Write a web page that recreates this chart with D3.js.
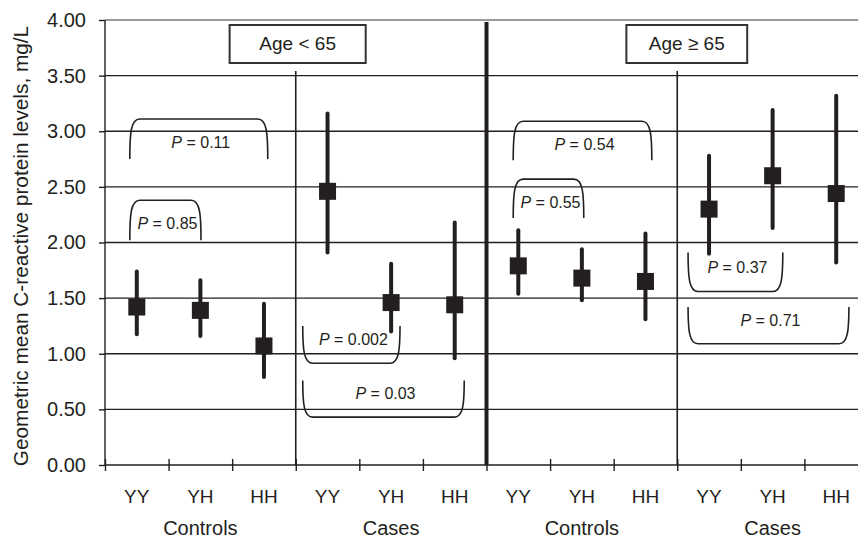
<!DOCTYPE html>
<html>
<head>
<meta charset="utf-8">
<script src="https://d3js.org/d3.v7.min.js"></script>
<style>
  body { margin: 0; background: #fff; }
  svg { display: block; font-family: "Liberation Sans", Arial, sans-serif; }
</style>
</head>
<body>
<svg id="chart" width="858" height="539"></svg>
<script>
// CRP by genotype, split by age and case/control status
var genotypes = ['YY', 'YH', 'HH'];
var groups = ['Controls', 'Cases', 'Controls', 'Cases'];
var ageLabels = ['Age < 65', 'Age \u2265 65'];

var means = [1.42, 1.39, 1.07, 2.46, 1.46, 1.44, 1.79, 1.68, 1.65, 2.30, 2.60, 2.44];
var lower = [1.175, 1.16, 0.79, 1.91, 1.20, 0.96, 1.54, 1.48, 1.31, 1.90, 2.13, 1.82];
var upper = [1.74, 1.66, 1.45, 3.16, 1.81, 2.18, 2.11, 1.94, 2.08, 2.78, 3.19, 3.32];

var yTicks = [0, 0.5, 1, 1.5, 2, 2.5, 3, 3.5, 4];

// P-value brackets: span in category units, bar level and end level in mg/L
var pLabels = ['0.85', '0.11', '0.002', '0.03', '0.55', '0.54', '0.37', '0.71'];
var bracketFrom = [0.39, 0.39, 3.11, 3.11, 6.42, 6.42, 9.17, 9.17];
var bracketTo = [1.51, 2.56, 4.64, 5.65, 7.53, 8.60, 10.66, 11.70];
var bracketBar = [2.38, 3.11, 0.915, 0.43, 2.57, 3.09, 1.56, 1.09];
var bracketEnd = [2.02, 2.75, 1.25, 0.76, 2.22, 2.74, 1.91, 1.42];

var ink = '#231f20';
var svg = d3.select('#chart');

var x = d3.scaleLinear().domain([0, 12]).range([105, 868]);
var y = d3.scaleLinear().domain([0, 4]).range([465, 20]);

// gridlines
svg.append('g').selectAll('line')
	.data(yTicks)
	.enter()
	.append('line')
	.attr('x1', 105)
	.attr('x2', 858)
	.attr('y1', function (d) { return y(d); })
	.attr('y2', function (d) { return y(d); })
	.style('stroke', function (d) { return d === 4 ? '#777' : ink; })
	.style('stroke-width', 1.4);

// y axis
var yAxis = svg.append('g')
	.attr('transform', 'translate(105,0)')
	.call(d3.axisLeft(y).tickValues(yTicks).tickSize(6).tickPadding(13)
		.tickFormat(d3.format('.2f')));
yAxis.select('.domain').remove();
yAxis.selectAll('line').style('stroke', ink).style('stroke-width', 1.4);
yAxis.selectAll('text')
	.style('font-size', '20px')
	.style('font-family', '"Liberation Sans", Arial, sans-serif')
	.style('fill', ink);

svg.append('line')
	.attr('x1', 105).attr('x2', 105)
	.attr('y1', y(4)).attr('y2', y(0))
	.style('stroke', ink).style('stroke-width', 1.4);

// x axis ticks
var xAxis = svg.append('g')
	.attr('transform', 'translate(0,' + y(0) + ')')
	.call(d3.axisBottom(x).tickValues(d3.range(0, 13)).tickSize(6).tickFormat(''));
xAxis.select('.domain').remove();
xAxis.selectAll('line')
	.attr('y1', -6)
	.attr('y2', 6)
	.style('stroke', ink)
	.style('stroke-width', 1.4);

// separators between groups
var separators = [3, 6, 9];
svg.append('g').selectAll('line')
	.data(separators)
	.enter()
	.append('line')
	.attr('x1', function (d) { return x(d); })
	.attr('x2', function (d) { return x(d); })
	.attr('y1', function (d) { return d === 6 ? 22 : 71; })
	.attr('y2', y(0))
	.style('stroke', ink)
	.style('stroke-width', function (d) { return d === 6 ? 4 : 1.6; });

// age boxes
var boxFrom = [1.96, 8.2];
var boxTo = [4.1, 10.1];
ageLabels.forEach(function (label, i) {
	svg.append('rect')
		.attr('x', x(boxFrom[i]))
		.attr('y', 25)
		.attr('width', x(boxTo[i]) - x(boxFrom[i]))
		.attr('height', 38)
		.style('fill', '#fff')
		.style('stroke', '#333')
		.style('stroke-width', 2);
	svg.append('text')
		.attr('x', (x(boxFrom[i]) + x(boxTo[i])) / 2)
		.attr('y', 50)
		.attr('text-anchor', 'middle')
		.style('font-size', '19px')
		.style('fill', ink)
		.text(label);
});

// error bars
svg.append('g').selectAll('line')
	.data(means)
	.enter()
	.append('line')
	.attr('x1', function (d, i) { return x(i + 0.5); })
	.attr('x2', function (d, i) { return x(i + 0.5); })
	.attr('y1', function (d, i) { return y(upper[i]); })
	.attr('y2', function (d, i) { return y(lower[i]); })
	.style('stroke', ink)
	.style('stroke-width', 4)
	.style('stroke-linecap', 'round');

// mean markers
var size = 17;
svg.append('g').selectAll('rect')
	.data(means)
	.enter()
	.append('rect')
	.attr('x', function (d, i) { return x(i + 0.5) - size / 2; })
	.attr('y', function (d) { return y(d) - size / 2; })
	.attr('width', size)
	.attr('height', size)
	.style('fill', ink);

// brackets
pLabels.forEach(function (p, i) {
	var x1 = x(bracketFrom[i]), x2 = x(bracketTo[i]);
	var yb = y(bracketBar[i]), ye = y(bracketEnd[i]);
	var up = ye > yb; // bar above ends
	var r = 10, dy = up ? 14 : -14;
	var path = 'M' + x1 + ',' + ye +
		' C' + x1 + ',' + (yb + dy) + ' ' + (x1 + 1) + ',' + yb + ' ' + (x1 + r) + ',' + yb +
		' L' + (x2 - r) + ',' + yb +
		' C' + (x2 - 1) + ',' + yb + ' ' + x2 + ',' + (yb + dy) + ' ' + x2 + ',' + ye;
	svg.append('path')
		.attr('d', path)
		.style('fill', 'none')
		.style('stroke', ink)
		.style('stroke-width', 1.6);

	var t = svg.append('text')
		.attr('x', (x1 + x2) / 2 + 2)
		.attr('y', up ? yb + 29 : yb - 18)
		.attr('text-anchor', 'middle')
		.style('font-size', '16px')
		.style('fill', ink);
	t.append('tspan').style('font-style', 'italic').text('P');
	t.append('tspan').text(' = ' + p);
});

// genotype labels
svg.append('g').selectAll('text')
	.data(d3.range(12))
	.enter()
	.append('text')
	.attr('x', function (d) { return x(d + 0.5); })
	.attr('y', 503)
	.attr('text-anchor', 'middle')
	.style('font-size', '19px')
	.style('fill', ink)
	.text(function (d) { return genotypes[d % 3]; });

// group labels
svg.append('g').selectAll('text')
	.data(groups)
	.enter()
	.append('text')
	.attr('x', function (d, i) { return x(i * 3 + 1.5); })
	.attr('y', 535)
	.attr('text-anchor', 'middle')
	.style('font-size', '20px')
	.style('fill', ink)
	.text(function (d) { return d; });

// y label
svg.append('text')
	.attr('transform', 'translate(28,246) rotate(-90)')
	.attr('text-anchor', 'middle')
	.style('font-size', '20.8px')
	.style('fill', ink)
	.text('Geometric mean C-reactive protein levels, mg/L');
</script>
</body>
</html>
